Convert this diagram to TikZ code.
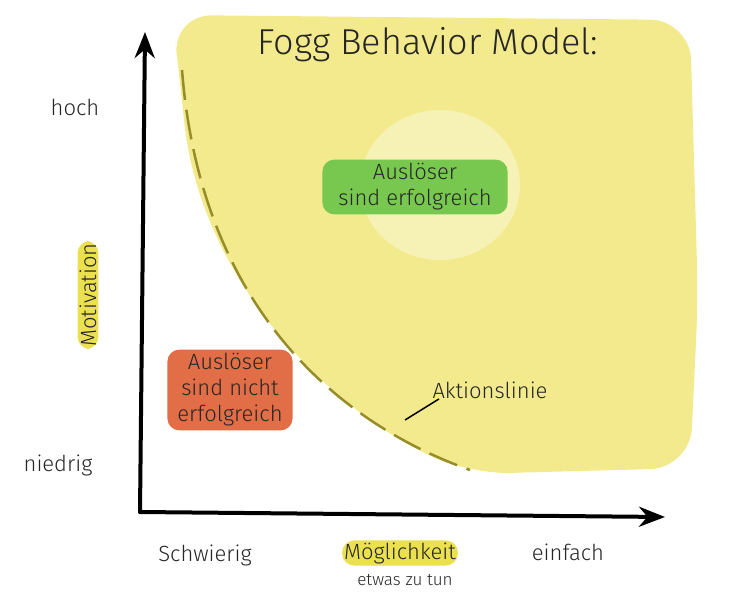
\documentclass[tikz,border=0pt]{standalone}
\usepackage{fontspec}
\setmainfont{Fira Sans Light}
\usetikzlibrary{arrows.meta}
\definecolor{blobyellow}{RGB}{242,234,140}
\definecolor{lineolive}{RGB}{150,140,40}
\definecolor{hlgreen}{RGB}{120,200,80}
\definecolor{hlred}{RGB}{225,110,70}
\definecolor{hlyellow}{RGB}{235,225,80}
\tikzset{
  axisline/.style={line width=4pt,black,line cap=round,-{Stealth[length=26pt,width=20pt]}},
  hand/.style={font=\fontsize{22}{26}\selectfont,text=black!85},
  highlight/.style={rounded corners=12pt,inner sep=4pt,align=center}
}
\begin{document}
\begin{tikzpicture}[x=1pt,y=-1pt]
        \useasboundingbox (0,0) rectangle (729,600);
        % blob
        \fill[blobyellow,rounded corners=40pt] (172,15) -- (690,20) -- (698,300) -- (690,468) -- (470,474)
          .. controls (330,410) and (200,280) .. (180,80) -- cycle;
        \fill[white,opacity=0.35] (440,185) ellipse (80 and 75);
        \draw[lineolive,line width=2.5pt,dash pattern=on 30pt off 10pt] (182,70) .. controls (200,300) and (330,420) .. (470,470);
        \node[hand,font=\fontsize{36}{40}\selectfont] (title) at (428,45) {Fogg Behavior Model:};
        % axes
        \coordinate (origin) at (140,512);
        \coordinate (ytop) at (145,32);
        \coordinate (xend) at (665,517);
        \draw[axisline] (origin) -- (ytop);
        \draw[axisline] (origin) -- (xend);
        % labels
        \node[hand] (hoch) at (75,107) {hoch};
        \node[hand] (niedrig) at (58,465) {niedrig};
        \node[hand,highlight,fill=hlyellow,rotate=90,inner sep=2pt] (motiv) at (88,295) {Motivation};
        \node[hand] (schwer) at (205,555) {Schwierig};
        \node[hand,highlight,fill=hlyellow,inner sep=2pt] (moegl) at (400,553) {Möglichkeit};
        \node[hand,font=\fontsize{17}{19}\selectfont] (tun) at (405,580) {etwas zu tun};
        \node[hand] (einfach) at (568,552) {einfach};
        \node[hand,highlight,fill=hlgreen,inner xsep=16pt] (erfolg) at (415,187) {Auslöser\\sind erfolgreich};
        \node[hand,highlight,fill=hlred,inner xsep=10pt] (nicht) at (230,390) {Auslöser\\sind nicht\\erfolgreich};
        \node[hand] (aktion) at (490,390) {Aktionslinie};
        \coordinate (aktionfuss) at (405,420);
        \draw[black,line width=1.5pt] (aktion.south west) ++(10,-3) -- (aktionfuss);
      \end{tikzpicture}
\end{document}
